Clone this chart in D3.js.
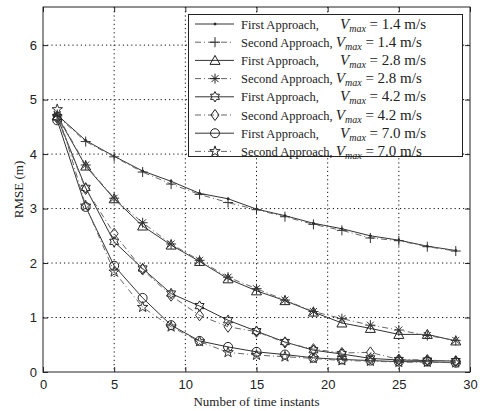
<!DOCTYPE html>
<html>
<head>
<meta charset="UTF-8">
<script src="https://cdn.jsdelivr.net/npm/d3@7"></script>
<style>
  body { margin: 0; background: #fff; }
  .tick text { font: 13px "Liberation Sans", Arial, sans-serif; fill: #222; }
  .grid line { stroke: #111; stroke-width: 1; stroke-dasharray: 1.2,3; }
  .lbl { font: 13px "Liberation Serif", "Times New Roman", serif; fill: #222; }
  .leg { font: 12.5px "Liberation Serif", "Times New Roman", serif; fill: #222; }
</style>
</head>
<body>
<script>

// time instants (x)
const instants = [1, 3, 5, 7, 9, 11, 13, 15, 17, 19, 21, 23, 25, 27, 29];

// RMSE (m)
const first14  = [4.72, 4.25, 3.96, 3.69, 3.50, 3.28, 3.18, 2.99, 2.87, 2.73, 2.63, 2.50, 2.42, 2.31, 2.23];
const second14 = [4.70, 4.23, 3.95, 3.67, 3.45, 3.26, 3.11, 2.98, 2.85, 2.71, 2.60, 2.46, 2.41, 2.30, 2.22];
const first28  = [4.70, 3.78, 3.18, 2.68, 2.33, 2.03, 1.71, 1.49, 1.31, 1.10, 0.90, 0.80, 0.69, 0.69, 0.57];
const second28 = [4.72, 3.80, 3.19, 2.74, 2.35, 2.05, 1.74, 1.53, 1.32, 1.11, 0.98, 0.86, 0.77, 0.67, 0.58];
const first42  = [4.68, 3.38, 2.39, 1.90, 1.44, 1.21, 0.95, 0.75, 0.55, 0.40, 0.33, 0.25, 0.22, 0.21, 0.20];
const second42 = [4.66, 3.36, 2.54, 1.88, 1.40, 1.04, 0.83, 0.74, 0.54, 0.42, 0.35, 0.36, 0.23, 0.22, 0.20];
const first70  = [4.62, 3.03, 1.95, 1.36, 0.86, 0.57, 0.46, 0.37, 0.32, 0.26, 0.23, 0.21, 0.19, 0.19, 0.17];
const second70 = [4.82, 3.05, 1.84, 1.19, 0.83, 0.56, 0.36, 0.31, 0.28, 0.25, 0.21, 0.20, 0.18, 0.18, 0.17];

const vmax = ["1.4", "2.8", "4.2", "7.0"];
const xTicks = [0, 5, 10, 15, 20, 25, 30];
const yTicks = [0, 1, 2, 3, 4, 5, 6];

// marker path builders (centred at 0,0)
function starPath(n, ro, ri) {
  let p = [];
  for (let i = 0; i < 2 * n; i++) {
    let r = i % 2 ? ri : ro;
    let a = -Math.PI / 2 + i * Math.PI / n;
    p.push([r * Math.cos(a), r * Math.sin(a)]);
  }
  return "M" + p.map(d => d[0].toFixed(2) + "," + d[1].toFixed(2)).join("L") + "Z";
}
const markers = {
  point: "M-1,0A1,1 0 1,0 1,0A1,1 0 1,0 -1,0",
  plus: "M-5,0H5M0,-5V5",
  triangle: "M0,-5L5,4L-5,4Z",
  asterisk: "M-5,0H5M0,-5V5M-3.5,-3.5L3.5,3.5M-3.5,3.5L3.5,-3.5",
  hexagram: starPath(6, 5.2, 3.0),
  diamond: "M0,-5.5L4,0L0,5.5L-4,0Z",
  circle: "M-4.5,0A4.5,4.5 0 1,0 4.5,0A4.5,4.5 0 1,0 -4.5,0",
  pentagram: starPath(5, 5.5, 2.2)
};

const series = [
  { name: "First Approach,", v: vmax[0], vals: first14, mk: "point", dash: false },
  { name: "Second Approach,", v: vmax[0], vals: second14, mk: "plus", dash: true },
  { name: "First Approach,", v: vmax[1], vals: first28, mk: "triangle", dash: false },
  { name: "Second Approach,", v: vmax[1], vals: second28, mk: "asterisk", dash: true },
  { name: "First Approach,", v: vmax[2], vals: first42, mk: "hexagram", dash: false },
  { name: "Second Approach,", v: vmax[2], vals: second42, mk: "diamond", dash: true },
  { name: "First Approach,", v: vmax[3], vals: first70, mk: "circle", dash: false },
  { name: "Second Approach,", v: vmax[3], vals: second70, mk: "pentagram", dash: true }
];

const W = 480, H = 411;
const L = 43, R = 470, T = 7, B = 372;

const x = d3.scaleLinear().domain([0, 30]).range([L, R]);
const y = d3.scaleLinear().domain([0, 6.7]).range([B, T]);

const svg = d3.select("body").append("svg")
  .attr("width", W).attr("height", H);

// grid
const grid = svg.append("g").attr("class", "grid");
grid.selectAll(".gx").data(xTicks.slice(1, -1)).enter().append("line")
  .attr("x1", d => x(d)).attr("x2", d => x(d)).attr("y1", T).attr("y2", B);
grid.selectAll(".gy").data(yTicks.slice(1)).enter().append("line")
  .attr("x1", L).attr("x2", R).attr("y1", d => y(d)).attr("y2", d => y(d));

// lines + markers
const line = d3.line().x(d => x(d[0])).y(d => y(d[1]));
series.forEach(s => {
  let pts = instants.map((t, i) => [t, s.vals[i]]);
  let col = s.dash ? "#666" : "#333";
  svg.append("path")
    .attr("d", line(pts))
    .attr("fill", "none")
    .attr("stroke", col)
    .attr("stroke-width", 1)
    .attr("stroke-dasharray", s.dash ? "6,3,1,3" : null);
  svg.selectAll(null).data(pts).enter().append("path")
    .attr("transform", d => "translate(" + x(d[0]) + "," + y(d[1]) + ")")
    .attr("d", markers[s.mk])
    .attr("fill", s.mk == "point" ? "#222" : "none")
    .attr("stroke", s.dash ? "#333" : "#222")
    .attr("stroke-width", 1);
});

// axes (inward ticks, MATLAB style)
const xAxis = d3.axisBottom(x).tickValues(xTicks).tickSize(-5).tickPadding(8).tickFormat(d3.format("d"));
const yAxis = d3.axisLeft(y).tickValues(yTicks).tickSize(-5).tickPadding(6).tickFormat(d3.format("d"));
svg.append("g").attr("transform", "translate(0," + B + ")").call(xAxis)
  .call(g => g.select(".domain").remove());
svg.append("g").attr("transform", "translate(" + L + ",0)").call(yAxis)
  .call(g => g.select(".domain").remove());
svg.append("g").attr("transform", "translate(0," + T + ")")
  .call(d3.axisTop(x).tickValues(xTicks).tickSize(-5).tickFormat(""))
  .call(g => g.select(".domain").remove());
svg.append("g").attr("transform", "translate(" + R + ",0)")
  .call(d3.axisRight(y).tickValues(yTicks).tickSize(-5).tickFormat(""))
  .call(g => g.select(".domain").remove());
svg.selectAll(".tick line").attr("stroke", "#222");

svg.append("rect")
  .attr("x", L).attr("y", T).attr("width", R - L).attr("height", B - T)
  .attr("fill", "none").attr("stroke", "#222").attr("stroke-width", 1);

// axis labels
svg.append("text").attr("class", "lbl")
  .attr("x", (L + R) / 2).attr("y", 406)
  .attr("text-anchor", "middle")
  .text("Number of time instants");
svg.append("text").attr("class", "lbl")
  .attr("transform", "translate(23," + (T + B) / 2 + ") rotate(-90)")
  .attr("text-anchor", "middle")
  .text("RMSE (m)");

// legend
const lg = svg.append("g");
lg.append("rect")
  .attr("x", 188.5).attr("y", 14.5).attr("width", 274).attr("height", 142)
  .attr("fill", "#fff").attr("stroke", "#222").attr("stroke-width", 1);

series.forEach((s, i) => {
  let ly = 24 + i * 18.2;
  lg.append("line")
    .attr("x1", 195).attr("x2", 234).attr("y1", ly).attr("y2", ly)
    .attr("stroke", s.dash ? "#666" : "#333")
    .attr("stroke-dasharray", s.dash ? "6,3,1,3" : null);
  lg.append("path")
    .attr("transform", "translate(215," + ly + ")")
    .attr("d", markers[s.mk])
    .attr("fill", s.mk == "point" ? "#222" : "none")
    .attr("stroke", "#222");
  let t = lg.append("text").attr("class", "leg").attr("y", ly + 4.5);
  t.append("tspan").attr("x", 241).text(s.name + (s.dash ? " " : ""));
  let v = t.append("tspan").attr("font-style", "italic").attr("font-size", "15px").text("V");
  if (!s.dash) v.attr("x", 340);
  t.append("tspan").attr("font-style", "italic").attr("font-size", "10px").attr("dy", 3).text("max");
  t.append("tspan").attr("dy", -3).attr("font-size", "15px").text(" = " + s.v + " m/s");
});

</script>
</body>
</html>
